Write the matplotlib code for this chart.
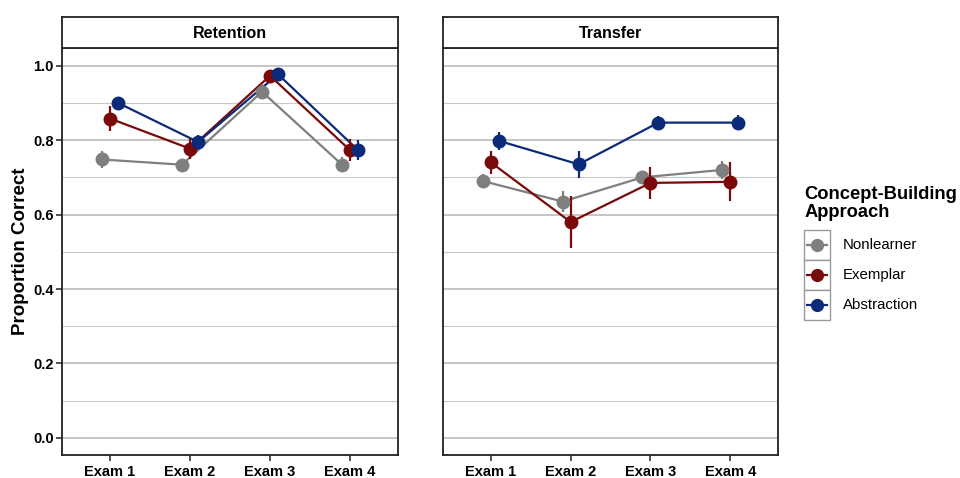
import numpy as np
import matplotlib
matplotlib.use("Agg")
import matplotlib.pyplot as plt
from matplotlib.lines import Line2D
from matplotlib.patches import Rectangle

plt.rcParams['font.family'] = ['Liberation Sans', 'DejaVu Sans']

exams = ["Exam 1", "Exam 2", "Exam 3", "Exam 4"]
panels = ["Retention", "Transfer"]
groups = ["Nonlearner", "Exemplar", "Abstraction"]
colors = {"Nonlearner": "#7f7f7f", "Exemplar": "#7a0a0a", "Abstraction": "#0b2a7a"}

# mean proportion correct per panel / group / exam
retention_mean = {
    "Nonlearner": [0.748, 0.734, 0.930, 0.734],
    "Exemplar": [0.858, 0.777, 0.973, 0.773],
    "Abstraction": [0.900, 0.795, 0.977, 0.773],
}
retention_err = {
    "Nonlearner": [0.022, 0.015, 0.020, 0.020],
    "Exemplar": [0.034, 0.027, 0.010, 0.029],
    "Abstraction": [0.016, 0.020, 0.010, 0.027],
}
transfer_mean = {
    "Nonlearner": [0.690, 0.635, 0.700, 0.720],
    "Exemplar": [0.740, 0.580, 0.685, 0.688],
    "Abstraction": [0.798, 0.735, 0.847, 0.847],
}
transfer_err = {
    "Nonlearner": [0.019, 0.027, 0.017, 0.025],
    "Exemplar": [0.031, 0.070, 0.044, 0.052],
    "Abstraction": [0.024, 0.037, 0.018, 0.020],
}

means = {"Retention": retention_mean, "Transfer": transfer_mean}
errs = {"Retention": retention_err, "Transfer": transfer_err}
dodge = {"Nonlearner": -0.1, "Exemplar": 0.0, "Abstraction": 0.1}

fig = plt.figure(figsize=(9.6, 4.78), dpi=100)
x = np.arange(1, len(exams) + 1)

ax_l = fig.add_axes([0.0646, 0.048, 0.350, 0.852])
ax_r = fig.add_axes([0.4615, 0.048, 0.349, 0.852])

for ax, panel in zip([ax_l, ax_r], panels):
    ax.set_xlim(0.4, 4.6)
    ax.set_ylim(-0.046, 1.048)
    ax.set_yticks(np.arange(0, 1.01, 0.2))
    ax.set_yticks(np.arange(0.1, 1.0, 0.2), minor=True)
    ax.grid(axis='y', which='major', color='#b5b5b5', lw=1.1)
    ax.grid(axis='y', which='minor', color='#c8c8c8', lw=0.8)
    ax.set_axisbelow(True)
    ax.set_xticks(x)
    ax.set_xticklabels(exams, fontsize=10.5, fontweight='bold')
    ax.tick_params(axis='x', length=4, width=1.2, color='#333333', pad=3)
    ax.tick_params(axis='y', which='major', length=4, width=1.2, color='#333333', pad=2)
    ax.tick_params(axis='y', which='minor', length=0)
    for s in ax.spines.values():
        s.set_color('#222222')
        s.set_linewidth(1.3)

    for g in groups:
        xs = x + dodge[g]
        m = means[panel][g]
        e = errs[panel][g]
        ax.plot(xs, m, color=colors[g], lw=1.6, zorder=3)
        ax.errorbar(xs, m, yerr=e, fmt='o', color=colors[g], ms=9,
                    elinewidth=1.6, capsize=0, zorder=4)

    # facet strip
    strip = ax.inset_axes([0, 1.0, 1, 0.075])
    strip.set_xticks([])
    strip.set_yticks([])
    for s in strip.spines.values():
        s.set_color('#222222')
        s.set_linewidth(1.3)
    strip.text(0.5, 0.48, panel, ha='center', va='center', fontsize=11.5,
               fontweight='bold', transform=strip.transAxes)

ax_l.set_yticklabels([f"{v:.1f}" for v in np.arange(0, 1.01, 0.2)],
                     fontsize=10.5, fontweight='bold')
ax_l.set_ylabel("Proportion Correct", fontsize=13.5, fontweight='bold', labelpad=3)
ax_r.tick_params(axis='y', which='major', length=0, labelleft=False)

# legend drawn as a small panel of keys
fig.text(0.838, 0.574, "Concept-Building\nApproach", fontsize=13.2,
         fontweight='bold', ha='left', va='center', linespacing=1.1)
leg = fig.add_axes([0.837, 0.330, 0.028, 0.188])
leg.set_xlim(0, 1)
leg.set_ylim(0, len(groups))
leg.axis('off')
for i, g in enumerate(groups):
    y0 = len(groups) - 1 - i
    leg.add_patch(Rectangle((0, y0), 1, 1, facecolor='white',
                            edgecolor='#9a9a9a', lw=1.0, clip_on=False))
    leg.add_line(Line2D([0.12, 0.88], [y0 + 0.5, y0 + 0.5], color=colors[g], lw=1.6))
    leg.plot([0.5], [y0 + 0.5], 'o', color=colors[g], ms=8.5)
    fig.text(0.878, 0.330 + 0.188 * (y0 + 0.5) / len(groups), g,
             fontsize=10.8, ha='left', va='center')

fig.savefig("out.png", dpi=100)
